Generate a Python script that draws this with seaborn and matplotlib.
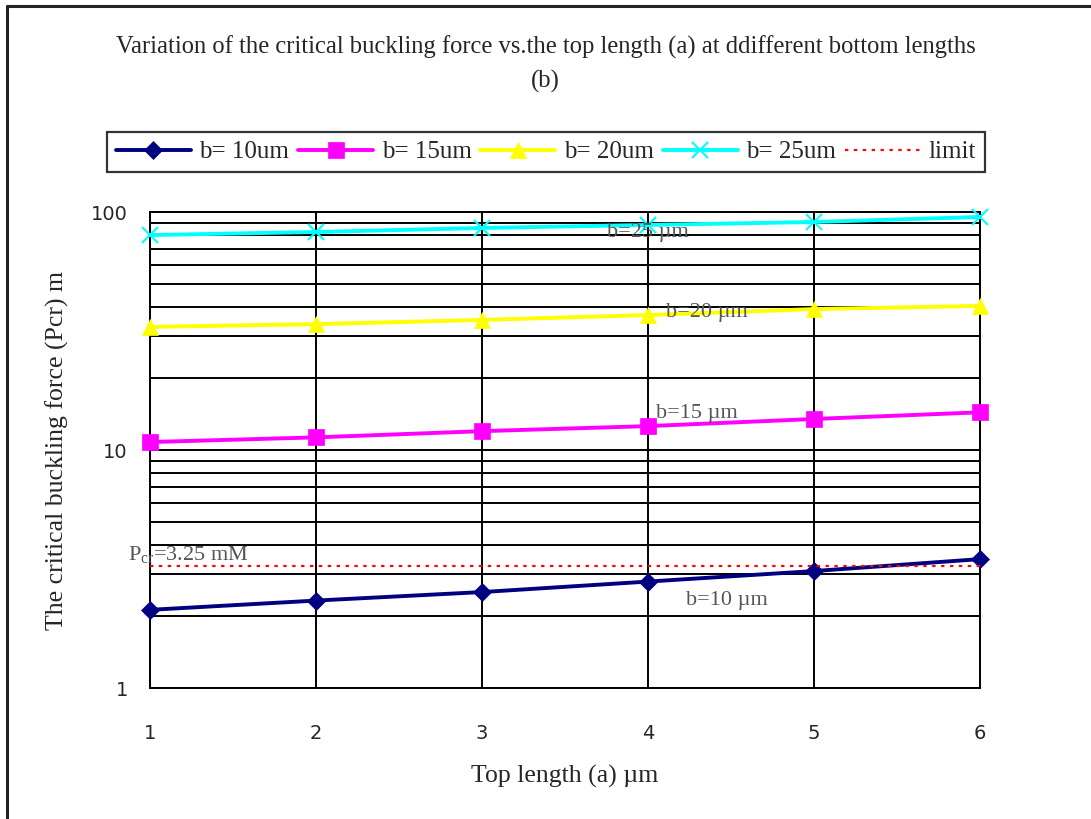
import numpy as np
import pandas as pd
import matplotlib
matplotlib.use("Agg")
import matplotlib.pyplot as plt
import seaborn as sns
from matplotlib.lines import Line2D

# Top length a (µm)
top_length = [1, 2, 3, 4, 5, 6]

# Critical buckling force for each bottom length b
pcr_b10 = [2.13, 2.33, 2.53, 2.80, 3.10, 3.48]
pcr_b15 = [10.8, 11.3, 12.0, 12.6, 13.5, 14.4]
pcr_b20 = [32.9, 33.8, 35.2, 36.9, 39.1, 40.3]
pcr_b25 = [80.0, 82.4, 85.7, 88.2, 90.8, 95.3]
pcr_limit = [3.25, 3.25, 3.25, 3.25, 3.25, 3.25]

series_names = ["b= 10um", "b= 15um", "b= 20um", "b= 25um"]
series_values = [pcr_b10, pcr_b15, pcr_b20, pcr_b25]
series_colors = ["#000080", "#FF00FF", "#FFFF00", "#00FFFF"]
series_markers = ["D", "s", "^", "x"]
marker_sizes = [9, 11, 11, 11]

sns.set_theme(style="white")
plt.rcParams["font.family"] = ["Liberation Serif", "DejaVu Serif"]

rows = []
for name, vals in zip(series_names, series_values):
    for a, v in zip(top_length, vals):
        rows.append({"a": a, "Pcr": v, "series": name})
df = pd.DataFrame(rows)

fig = plt.figure(figsize=(10.91, 8.19), dpi=100)
ax = fig.add_axes([150 / 1091, 1 - 688 / 819, 830 / 1091, 476 / 819])

ax.set_yscale("log")
ax.set_ylim(1, 100)
ax.set_xlim(1, 6)

# grid: vertical at each a, horizontal at every log step
ax.set_xticks(top_length)
ax.set_yticks([1, 10, 100])
ax.set_yticklabels(["1", "10", "100"])
ax.yaxis.set_minor_locator(matplotlib.ticker.LogLocator(base=10, subs=np.arange(2, 10)))
ax.yaxis.set_minor_formatter(matplotlib.ticker.NullFormatter())
ax.grid(True, which="major", axis="both", color="black", linewidth=1.4)
ax.grid(True, which="minor", axis="y", color="black", linewidth=1.4)
ax.tick_params(which="both", length=0)
ax.tick_params(axis="x", pad=26)
ax.tick_params(axis="y", pad=16)
for lbl in ax.get_xticklabels() + ax.get_yticklabels():
    lbl.set_fontfamily(["DejaVu Sans"])
    lbl.set_fontsize(14)
for side in ["left", "bottom", "right", "top"]:
    ax.spines[side].set_color("black")
    ax.spines[side].set_linewidth(1.4)

for name, color, mk, ms in zip(series_names, series_colors, series_markers, marker_sizes):
    sub = df[df["series"] == name]
    sns.lineplot(data=sub, x="a", y="Pcr", ax=ax, color=color, linewidth=2.8,
                 marker=mk, markersize=ms, markeredgecolor=color,
                 markeredgewidth=1.5 if mk == "x" else 0.5, legend=False,
                 clip_on=False, zorder=3)

sns.lineplot(x=top_length, y=pcr_limit, ax=ax, color="red", linestyle=(0, (1.5, 2.5)),
             linewidth=1.6, legend=False, zorder=3)

ax.set_xlabel("Top length (a) \u00b5m", fontsize=18.5, labelpad=16)
ax.set_ylabel("The critical buckling force (Pcr) m", fontsize=18.5, labelpad=16)

# curve labels
lab_kw = dict(fontsize=16, color="#555555", zorder=4)
ax.text(3.75, 82.4, "b=25 \u00b5m", va="center", ha="left", **lab_kw)
ax.text(4.11, 38.0, "b=20 \u00b5m", va="center", ha="left", **lab_kw)
ax.text(4.05, 14.3, "b=15 \u00b5m", va="center", ha="left", **lab_kw)
ax.text(4.23, 2.34, "b=10 \u00b5m", va="center", ha="left", **lab_kw)
ax.text(0.87, 3.27, "P$_{\\mathregular{cr}}$=3.25 mM", va="bottom", ha="left",
        clip_on=False, **lab_kw)

fig.text(0.5, 1 - 47 / 819, "Variation of the critical buckling force vs.the top length (a) at ddifferent bottom lengths",
         ha="center", va="center", fontsize=17.7)
fig.text(0.5, 1 - 81 / 819, "(b)", ha="center", va="center", fontsize=17.7)

handles = [Line2D([0], [0], color=c, marker=m, markersize=s, linewidth=2.8,
                  markeredgecolor=c, markeredgewidth=1.5 if m == "x" else 0.5)
           for c, m, s in zip(series_colors, series_markers, marker_sizes)]
handles.append(Line2D([0], [0], color="red", linestyle=(0, (1.5, 2.5)), linewidth=1.6))
labels = series_names + ["limit"]
leg = fig.legend(handles, labels, loc="center", ncol=5,
                 bbox_to_anchor=(107 / 1091, 1 - 172 / 819, 878 / 1091, 40 / 819),
                 mode="expand", frameon=True, fancybox=False, shadow=False,
                 handlelength=3.0, handletextpad=0.35, columnspacing=0.6,
                 borderaxespad=0, borderpad=0.35, fontsize=18)
leg.get_frame().set_edgecolor("black")
leg.get_frame().set_linewidth(1.6)

# outer frame (top and left edges)
fig.add_artist(Line2D([7 / 1091, 7 / 1091], [0, 1 - 6 / 819], color="#222222", linewidth=2.2,
                      transform=fig.transFigure))
fig.add_artist(Line2D([7 / 1091, 1], [1 - 6 / 819, 1 - 6 / 819], color="#222222", linewidth=2.2,
                      transform=fig.transFigure))

fig.savefig("out.png", dpi=100)
